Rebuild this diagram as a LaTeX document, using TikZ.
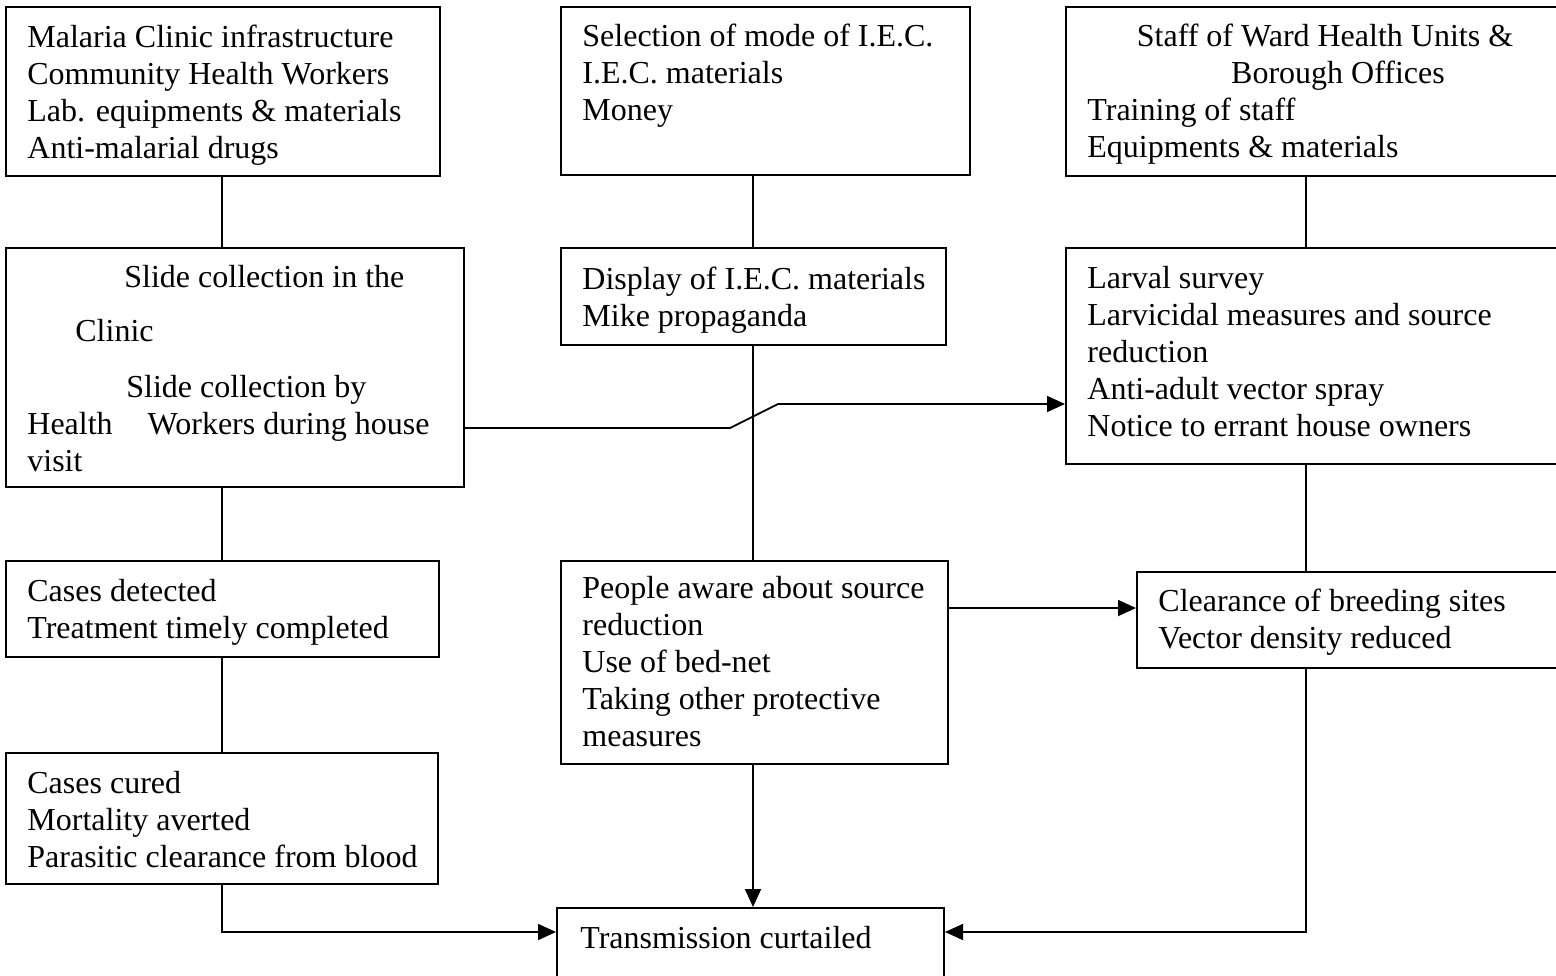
\documentclass[tikz,border=0pt]{standalone}
\usepackage{fontspec}
\setmainfont{Liberation Serif}
\usetikzlibrary{arrows.meta,fit}
\begin{document}
\begin{tikzpicture}[x=0.5pt,y=-0.5pt,
  box/.style={draw, line width=1pt, inner sep=0pt, rectangle},
  txt/.style={anchor=base west, align=left, inner sep=0pt, font=\fontsize{16}{18.5}\selectfont},
  ctxt/.style={anchor=base, inner sep=0pt, font=\fontsize{16}{18.5}\selectfont},
  link/.style={draw, line width=0.9pt},
  arr/.style={link, -{Triangle[length=9pt,width=8pt]}}]
\useasboundingbox (0,0) rectangle (1556,975);
\clip (0,0) rectangle (1556,975);
% boxes
\node[box, fit={(6,7) (440,176)}] (a1) {};
\node[box, fit={(561,7) (970,175)}] (b1) {};
\node[box, fit={(1066,7) (1620,176)}] (c1) {};
\node[box, fit={(6,248) (464,487)}] (a2) {};
\node[box, fit={(561,248) (946,345)}] (b2) {};
\node[box, fit={(1066,248) (1620,464)}] (c2) {};
\node[box, fit={(6,561) (439,657)}] (a3) {};
\node[box, fit={(561,561) (948,764)}] (b3) {};
\node[box, fit={(1137,572) (1620,668)}] (c3) {};
\node[box, fit={(6,753) (438,884)}] (a4) {};
\node[box, fit={(557,908) (944,1010)}] (d) {};
% texts (anchored at the baseline of their last line)
\node[txt] (ta1) at (27,158) {Malaria Clinic infrastructure\\Community Health Workers\\Lab. equipments \& materials\\Anti-malarial drugs};
\node[txt] (tb1) at (582,120) {Selection of mode of I.E.C.\\I.E.C. materials\\Money};
\node[ctxt] (tc1a) at (1325,46) {Staff of Ward Health Units \&};
\node[ctxt] (tc1b) at (1338,83) {Borough Offices};
\node[txt] (tc1c) at (1087,157) {Training of staff\\Equipments \& materials};
\node[txt] (ta2) at (27,471) {\hspace*{48.5pt}Slide collection in the\\[8.5pt]\hspace*{24pt}Clinic\\[9.5pt]\hspace*{49.5pt}Slide collection by\\Health\hspace*{17.5pt}Workers during house\\visit};
\node[txt] (tb2) at (582,326) {Display of I.E.C. materials\\Mike propaganda};
\node[txt] (tc2) at (1087,436) {Larval survey\\Larvicidal measures and source\\reduction\\Anti-adult vector spray\\Notice to errant house owners};
\node[txt] (ta3) at (27,638) {Cases detected\\Treatment timely completed};
\node[txt] (tb3) at (582,746) {People aware about source\\reduction\\Use of bed-net\\Taking other protective\\measures};
\node[txt] (tc3) at (1158,648) {Clearance of breeding sites\\Vector density reduced};
\node[txt] (ta4) at (27,867) {Cases cured\\Mortality averted\\Parasitic clearance from blood};
\node[txt] (td) at (580,948) {Transmission curtailed};
% helper coordinates
\coordinate (cx) at (1306,0);
\coordinate (bx) at (753,0);
\coordinate (ax) at (222,0);
\coordinate (dy) at (0,932);
\coordinate (ey) at (0,608);
\coordinate (k1) at (730,428);
\coordinate (k2) at (778,404);
% connectors
\draw[link] (ax |- a1.south) -- (ax |- a2.north);
\draw[link] (ax |- a2.south) -- (ax |- a3.north);
\draw[link] (ax |- a3.south) -- (ax |- a4.north);
\draw[link] (bx |- b1.south) -- (bx |- b2.north);
\draw[link] (bx |- b2.south) -- (bx |- b3.north);
\draw[link] (cx |- c1.south) -- (cx |- c2.north);
\draw[link] (cx |- c2.south) -- (cx |- c3.north);
\draw[arr] (a2.east |- k1) -- (k1) -- (k2) -- (c2.west |- k2);
\draw[arr] (b3.east |- ey) -- (c3.west |- ey);
\draw[arr] (bx |- b3.south) -- (bx |- d.north);
\draw[arr] (ax |- a4.south) |- (d.west |- dy);
\draw[arr] (cx |- c3.south) |- (d.east |- dy);
\end{tikzpicture}
\end{document}
